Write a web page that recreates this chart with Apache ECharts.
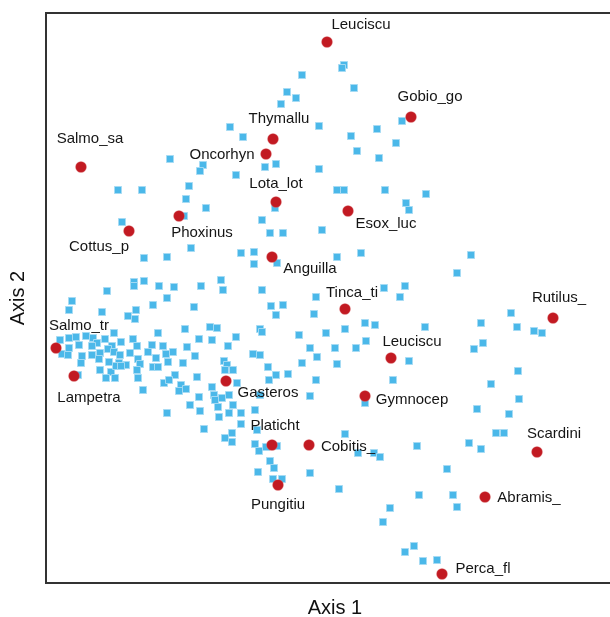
<!DOCTYPE html>
<html><head><meta charset="utf-8">
<script src="https://cdn.jsdelivr.net/npm/echarts@6/dist/echarts.min.js"></script>
<style>html,body{margin:0;padding:0;background:#fff}#c{width:610px;height:617px}</style>
</head><body><div id="c"></div>
<script>
// Species (red points): names and positions on Axis 1 / Axis 2 (screen-scale units)
const speciesNames = ["Leuciscu","Gobio_go","Salmo_sa","Thymallu","Oncorhyn","Lota_lot","Esox_luc","Phoxinus","Cottus_p","Anguilla","Tinca_ti","Rutilus_","Salmo_tr","Lampetra","Leuciscu","Gasteros","Gymnocep","Scardini","Platicht","Cobitis_","Abramis_","Pungitiu","Perca_fl"];
const speciesAxis1 = [327,411,81,273,266,276,348,179,129,272,345,553,56,74,391,226,365,537,272,309,485,278,442];
const speciesAxis2 = [42,117,167,139,154,202,211,216,231,257,309,318,348,376,358,381,396,452,445,445,497,485,574];

// Sites (blue squares)
const siteAxis1 = [344,342,302,354,287,296,281,402,319,230,243,351,377,396,357,379,265,276,236,319,337,344,385,426,406,409,275,
170,203,200,189,118,142,186,206,184,122,
191,241,144,167,134,134,144,159,174,201,221,223,107,167,
72,69,102,136,153,194,128,135,185,210,217,158,114,236,
60,69,76,86,93,97,105,133,121,112,79,69,92,108,137,152,163,187,199,212,228,
62,68,82,92,100,114,120,148,156,166,173,195,130,
99,109,119,126,138,140,153,158,168,183,81,100,111,116,121,137,175,138,115,106,164,169,181,212,229,143,179,186,199,214,222,224,227,225,233,237,78,197,
233,218,215,190,200,241,167,229,219,255,260,241,204,225,232,232,
257,255,259,266,277,345,358,374,380,417,270,258,274,310,273,282,339,419,390,383,414,405,423,310,365,
519,477,509,496,504,469,481,447,453,457,437,
471,457,511,481,517,534,542,425,483,474,518,491,
262,270,283,322,254,254,277,337,361,262,384,405,400,316,271,283,276,314,345,365,375,260,262,299,326,310,317,335,356,366,253,260,302,337,409,268,276,288,269,316,393];
const siteAxis2 = [65,68,75,88,92,98,104,121,126,127,137,136,129,143,151,158,167,164,175,169,190,190,190,194,203,210,208,
159,165,171,186,190,190,199,208,216,222,
248,253,258,257,282,286,281,286,287,286,280,290,291,298,
301,310,312,310,305,307,316,319,329,327,328,333,333,337,
340,338,337,336,338,343,339,339,342,346,345,348,346,349,346,345,346,347,339,340,346,
354,355,356,355,353,352,355,352,358,354,352,356,353,
359,362,363,365,359,364,367,367,362,363,363,370,372,366,366,370,375,378,378,378,383,380,385,387,395,390,391,389,397,395,398,361,365,370,370,383,375,377,
405,407,400,405,411,413,413,413,417,410,395,424,429,438,433,442,
430,444,451,447,446,434,453,453,457,446,461,472,468,473,479,479,489,495,508,522,546,552,561,396,403,
399,409,414,433,433,443,449,469,495,507,560,
255,273,313,323,327,331,333,327,343,349,371,384,
220,233,233,230,252,264,263,257,253,290,288,286,297,297,306,305,315,314,329,323,325,329,332,335,333,348,357,348,348,341,354,355,363,364,361,367,375,374,380,380,380];

// Label placement (layout only): offset of each species label centre from its point, px
const labelOffsets = [[34,-17],[19,-20],[9,-28],[6,-20],[-44,1],[0,-18],[38,13],[23,17],[-30,16],[38,12],[7,-16],[6,-20],[23,-22],[15,22],[21,-16],[42,12],[47,4],[17,-18],[3,-19],[39,2],[44,1],[0,20],[41,-5]];

const siteData = siteAxis1.map((x,i)=>[x, siteAxis2[i]]);
const speciesData = speciesNames.map((n,i)=>({
  name:n, value:[speciesAxis1[i], speciesAxis2[i]],
  label:{offset:labelOffsets[i]}
}));

const chart = echarts.init(document.getElementById('c'), null, {renderer:'canvas'});
const font = "'Liberation Sans', Arial, Helvetica, sans-serif";
chart.setOption({
  animation:false,
  backgroundColor:'#fff',
  grid:{left:46, top:13, width:578, height:570, containLabel:false, outerBoundsMode:'none',
    show:true, borderColor:'#333', borderWidth:2, backgroundColor:'transparent'},
  xAxis:{type:'value', min:46, max:624, name:'Axis 1', nameLocation:'middle', nameGap:15,
    nameTextStyle:{fontSize:20, color:'#111', fontFamily:font},
    axisLine:{show:false}, axisTick:{show:false}, axisLabel:{show:false}, splitLine:{show:false}},
  yAxis:{type:'value', min:13, max:583, inverse:true, name:'Axis 2', nameLocation:'middle', nameGap:18,
    nameTextStyle:{fontSize:20, color:'#111', fontFamily:font},
    axisLine:{show:false}, axisTick:{show:false}, axisLabel:{show:false}, splitLine:{show:false}},
  series:[
    {type:'scatter', name:'sites', data:siteData, symbol:'rect', symbolSize:7,
     itemStyle:{color:'#4BB8E9', borderColor:'rgba(165,218,243,0.95)', borderWidth:1, opacity:1}, z:2},
    {type:'scatter', name:'species', data:speciesData, symbol:'circle', symbolSize:11,
     itemStyle:{color:'#C21A22', borderColor:'rgba(230,150,150,0.6)', borderWidth:0.5, opacity:1},
     label:{show:true, position:'inside', formatter:'{b}', color:'#151515', fontSize:15, fontFamily:font},
     z:3}
  ]
});
</script></body></html>
